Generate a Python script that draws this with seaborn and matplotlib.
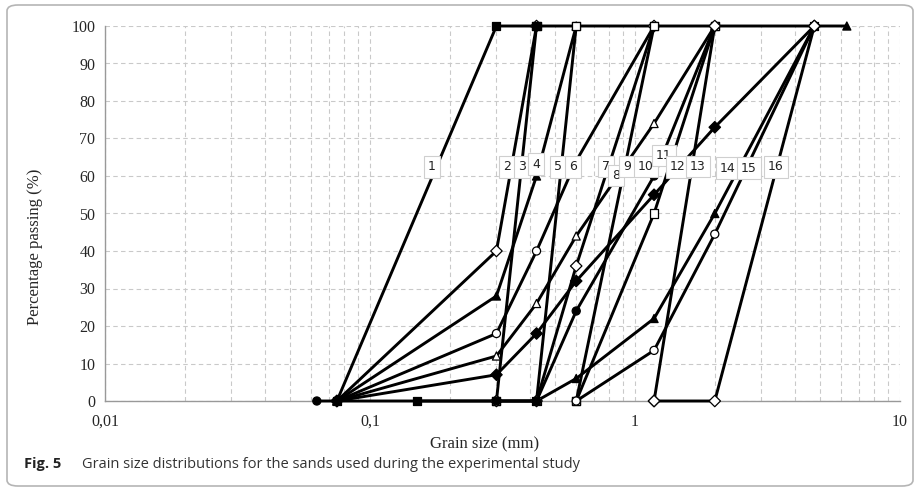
import matplotlib
matplotlib.use("Agg")
import pandas as pd
import matplotlib.pyplot as plt
import seaborn as sns
from matplotlib.patches import FancyBboxPatch
from matplotlib.ticker import LogLocator, NullFormatter

# Sieve sizes (mm) and percentage passing for the 16 sands (None = not measured)
sizes = [0.063, 0.075, 0.15, 0.3, 0.425, 0.6, 1.18, 2, 4.75, 6.3]

c1 = [None, 0, None, 100, 100, 100, 100, 100, 100, None]
c2 = [None, 0, None, 40, 100, None, None, None, None, None]
c3 = [None, None, 0, 0, 100, None, None, None, None, None]
c4 = [None, 0, None, 28, 60, 100, None, None, None, None]
c5 = [None, None, None, 0, 0, 100, None, None, None, None]
c6 = [None, 0, None, 18, 40, 64, 100, None, None, None]
c7 = [None, None, None, 0, 0, 36, 100, None, None, None]
c8 = [None, None, None, None, None, 0, 100, None, None, None]
c9 = [None, 0, None, 12, 26, 44, 74, 100, None, None]
c10 = [None, None, None, None, None, 0, 50, 100, None, None]
c11 = [0, 0, None, 0, 0, 24, 60, 100, None, None]
c12 = [None, 0, None, 7, 18, 32, 55, 73, 100, None]
c13 = [None, None, None, None, None, None, 0, 100, None, None]
c14 = [None, None, None, None, 0, 6, 22, 50, 100, 100]
c15 = [None, None, None, None, None, 0, 13.5, 44.5, 100, None]
c16 = [None, None, None, None, None, None, 0, 0, 100, None]

curves = [c1, c2, c3, c4, c5, c6, c7, c8, c9, c10, c11, c12, c13, c14, c15, c16]
curve_names = [str(i) for i in range(1, 17)]

# curve labels as placed on the chart
label_x = [0.1715, 0.329, 0.375, 0.423, 0.512, 0.583, 0.775, 0.848,
           0.933, 1.097, 1.286, 1.453, 1.728, 2.243, 2.686, 3.396]
label_y = [62.4, 62.4, 62.4, 63.2, 62.4, 62.4, 62.6, 60.1,
           62.6, 62.6, 65.4, 62.4, 62.6, 62.1, 62.1, 62.4]

# marker style per curve
curve_markers = ['s', 'D', 's', '^', 's', 'o', 'D', 's',
                 '^', 's', 'o', 'D', 'D', '^', 'o', 'D']
curve_filled = [True, False, True, True, False, False, False, False,
                False, False, True, True, False, True, False, False]

rows = []
for name, vals in zip(curve_names, curves):
    for s, v in zip(sizes, vals):
        if v is not None:
            rows.append({'curve': name, 'size': s, 'pct': v})
df = pd.DataFrame(rows)

sns.set_style("white")
plt.rcParams['font.family'] = ['Liberation Serif', 'DejaVu Serif']

fig = plt.figure(figsize=(9.21, 4.9), dpi=100)
ax = fig.add_axes([105 / 921, 89 / 490, 795 / 921, 375 / 490])
ax.set_xscale('log')

# grid
ax.set_xlim(0.01, 10)
ax.set_ylim(0, 100)
ax.xaxis.set_major_locator(LogLocator(base=10))
ax.xaxis.set_minor_locator(LogLocator(base=10, subs=range(2, 10)))
ax.xaxis.set_minor_formatter(NullFormatter())
ax.set_xticks([0.01, 0.1, 1, 10])
ax.set_xticklabels(['0,01', '0,1', '1', '10'])
ax.set_yticks(range(0, 101, 10))
ax.grid(True, which='both', axis='x', color='#c9c9c9', linestyle=(0, (4, 3)), lw=0.8)
ax.grid(True, which='major', axis='y', color='#c9c9c9', linestyle=(0, (4, 3)), lw=0.8)
ax.set_axisbelow(True)

sns.lineplot(data=df, x='size', y='pct', units='curve', estimator=None,
             sort=False, color='black', lw=2.1, ax=ax, legend=False,
             zorder=2, clip_on=False)

face = {n: ('black' if f else 'white') for n, f in zip(curve_names, curve_filled)}
marks = dict(zip(curve_names, curve_markers))
sns.scatterplot(data=df, x='size', y='pct', hue='curve', palette=face,
                style='curve', markers=marks, edgecolor='black', linewidth=0.9,
                s=34, ax=ax, legend=False, zorder=3, clip_on=False)

for name, lx, ly in zip(curve_names, label_x, label_y):
    ax.text(lx, ly, name, ha='center', va='center', fontsize=9,
            family='DejaVu Sans', color='#222222', zorder=4,
            bbox=dict(boxstyle='square,pad=0.33', fc='white', ec='#cfcfcf', lw=0.8))

for side in ['top', 'right']:
    ax.spines[side].set_visible(False)
for side in ['left', 'bottom']:
    ax.spines[side].set_color('#999999')
    ax.spines[side].set_linewidth(1.0)
    ax.spines[side].set_zorder(1)

ax.tick_params(axis='y', length=5, width=0.8, color='#999999', pad=2, labelsize=11.5)
ax.tick_params(axis='x', which='major', length=4, width=0.8, color='#999999', pad=5, labelsize=11.5)
ax.tick_params(axis='x', which='minor', length=3, width=0.6, color='#bbbbbb')

ax.set_xlabel('Grain size (mm)', fontsize=12)
ax.set_ylabel('Percentage passing (%)', fontsize=12)
ax.xaxis.set_label_coords(0.477, -0.095)
ax.yaxis.set_label_coords(-0.078, 0.41)

# outer frame and caption
frame = FancyBboxPatch((7 / 921, 4 / 490), 906 / 921, 481 / 490,
                       boxstyle='round,pad=0,rounding_size=0.012',
                       transform=fig.transFigure, fc='none', ec='#b5b5b5', lw=1.2)
fig.patches.append(frame)
fig.text(24 / 921, 1 - 464 / 490, 'Fig. 5', fontsize=10.5, weight='bold',
         family='Open Sans', color='#222222', va='center')
fig.text(82 / 921, 1 - 464 / 490,
         'Grain size distributions for the sands used during the experimental study',
         fontsize=10.5, family='Open Sans', color='#333333', va='center')

fig.savefig('out.png', dpi=100)
